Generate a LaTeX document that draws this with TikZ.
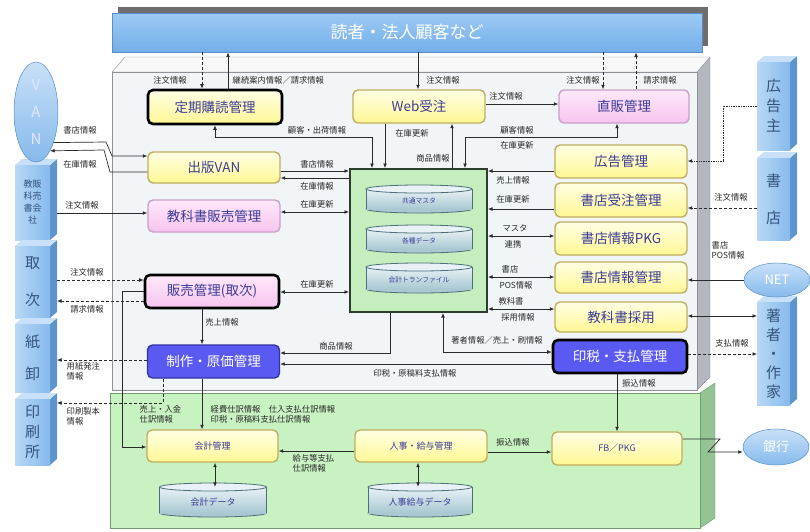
\documentclass[tikz,border=0pt]{standalone}
\usepackage{fontspec}
\setmainfont{Noto Sans CJK JP}
\usetikzlibrary{arrows.meta,shapes.geometric}
\definecolor{bannert}{HTML}{9CCAF4}
\definecolor{bannerbt}{HTML}{74AEEA}
\definecolor{bannerb}{HTML}{5A8CC8}
\definecolor{shadowc}{HTML}{6E6E6E}
\definecolor{panelc}{HTML}{F2F5F8}
\definecolor{paneltop}{HTML}{F8F8F8}
\definecolor{panelb}{HTML}{8E9298}
\definecolor{panelside}{HTML}{B4B8BE}
\definecolor{greenc}{HTML}{C9F2C2}
\definecolor{greenb}{HTML}{6E9E6E}
\definecolor{greenside}{HTML}{94C494}
\definecolor{dbc}{HTML}{C4EEBE}
\definecolor{dbb}{HTML}{2E3E2E}
\definecolor{yelt}{HTML}{FFFFE4}
\definecolor{yelb}{HTML}{FFF794}
\definecolor{yelline}{HTML}{BFAE5E}
\definecolor{pinkt}{HTML}{FFE8FB}
\definecolor{pinkb}{HTML}{F6C4EE}
\definecolor{pinkline}{HTML}{C8A0C8}
\definecolor{bluebox}{HTML}{5A5AF2}
\definecolor{blueline}{HTML}{3434A8}
\definecolor{boxtext}{HTML}{3C3C96}
\definecolor{cylt}{HTML}{E8F2F6}
\definecolor{cylb}{HTML}{A8C8D2}
\definecolor{cylline}{HTML}{4E6E7A}
\definecolor{blkfront}{HTML}{86BAEC}
\definecolor{blkleft}{HTML}{B8D8F6}
\definecolor{blktop}{HTML}{C8E0F8}
\definecolor{blkside}{HTML}{5E94CC}
\definecolor{blktext}{HTML}{34547E}
\definecolor{linec}{HTML}{2A2A2A}
\newcommand\tblock[8]{%
  \fill[blkside] (#4,#3) -- ++(7,-6) -- (#4+7,#5-6) -- (#4,#5) -- cycle;
  \fill[blktop] (#2,#3) -- ++(7,-6) -- (#4+7,#3-6) -- (#4,#3) -- cycle;
  \shade[left color=blkleft, right color=blkfront] (#2,#3) rectangle (#4,#5);
  \node[inner sep=0pt, outer sep=0pt, minimum width=#4pt-#2pt+7pt, minimum height=#5pt-#3pt, anchor=north west] (#1) at (#2,#3) {};
  \node[blktxt, font=\fontsize{#6}{#7}\selectfont] (#1-t) at ({(#2+#4)/2},{(#3+#5)/2}) {#8};
}
\newcommand\dbcyl[7]{%
  \filldraw[fill=cylb, draw=cylline, line width=0.8pt] (#2,#3+#5/2-4) ellipse [x radius=#4/2, y radius=4];
  \shade[top color=cylt, bottom color=cylb] (#2-#4/2,#3-#5/2+4) rectangle (#2+#4/2,#3+#5/2-4);
  \draw[draw=cylline, line width=0.8pt] (#2-#4/2,#3-#5/2+4) -- (#2-#4/2,#3+#5/2-4) (#2+#4/2,#3-#5/2+4) -- (#2+#4/2,#3+#5/2-4);
  \filldraw[fill=cylt, draw=cylline, line width=0.8pt] (#2,#3-#5/2+4) ellipse [x radius=#4/2, y radius=4];
  \node[inner sep=0pt, minimum width=#4pt, minimum height=#5pt-4pt, font=\fontsize{#6}{#6}\selectfont, text=boxtext] (#1) at (#2,#3+2) {#7};
}
\begin{document}
\begin{tikzpicture}[x=1pt,y=-1pt,
  box/.style={rounded corners=5pt, line width=1.4pt, minimum width=132pt, minimum height=32pt, font=\fontsize{13.5}{15}\selectfont, text=boxtext, inner sep=0pt},
  ybox/.style={box, draw=yelline, top color=yelt, bottom color=yelb},
  pbox/.style={box, draw=pinkline, top color=pinkt, bottom color=pinkb},
  bbox/.style={box, draw=blueline, fill=bluebox, text=white},
  heavy/.style={draw=black, line width=2.6pt},
  small/.style={font=\fontsize{9}{10}\selectfont},
  blktxt/.style={align=center, text=blktext, inner sep=0pt},
  lbl/.style={font=\fontsize{8.3}{9.5}\selectfont, text=black!85, inner sep=0.5pt, align=left},
  ln/.style={draw=linec, line width=0.7pt},
  arr/.style={ln, -{Latex[length=4.5pt,width=3.8pt]}},
  arrs/.style={ln, {Latex[length=4.5pt,width=3.8pt]}-{Latex[length=4.5pt,width=3.8pt]}},
  dsh/.style={densely dashed},
  ovl/.style={ellipse, inner sep=0pt, draw=bannerb, line width=0.5pt, top color=blktop, bottom color=blkfront, text=white}
]
\useasboundingbox (0,0) rectangle (810,531);
% banner
\fill[shadowc] (118,7) rectangle (708,46);
\node[draw=bannerb, line width=0.8pt, top color=bannert, bottom color=bannerbt, minimum width=590pt, minimum height=39pt, inner sep=0pt, text=white, font=\fontsize{17}{19}\selectfont] (banner) at (407,32.5) {読者・法人顧客など};
% gray panel
\filldraw[fill=panelside, draw=panelb] (697,72) -- (710,57) -- (710,377) -- (697,390) -- cycle;
\filldraw[fill=paneltop, draw=panelb] (112,72) -- (125,57) -- (710,57) -- (697,72) -- cycle;
\filldraw[fill=panelc, draw=panelb, line width=0.8pt] (112,72) rectangle (697,390);
% green panel
\filldraw[fill=greenside, draw=greenb] (700,393) -- (715,383) -- (715,518) -- (700,528) -- cycle;
\filldraw[fill=greenc, draw=greenb, line width=1pt] (110,393) rectangle (700,528);

% left column boxes
\node[ybox, heavy, minimum width=134pt, minimum height=34pt] (teiki) at (215,107) {定期購読管理};
\node[ybox, minimum height=31pt] (svan) at (214,167.5) {出版VAN};
\node[pbox] (kyo) at (214,216) {教科書販売管理};
\node[pbox, heavy, minimum width=134pt, minimum height=33pt] (hanbai) at (212,291.5) {販売管理(取次)};
\node[bbox, minimum height=33pt] (seisaku) at (213.5,361.5) {制作・原価管理};
% top boxes
\node[ybox, minimum height=33pt] (web) at (419,106.5) {Web受注};
\node[pbox, minimum width=130pt, minimum height=33pt] (chok) at (624,106.5) {直販管理};
% database
\node[draw=dbb, line width=2pt, fill=dbc, minimum width=137pt, minimum height=143pt, inner sep=0pt] (db) at (418.5,240.5) {};
\dbcyl{cyla}{419}{199}{106}{28}{6.8}{共通マスタ}
\dbcyl{cylb}{419}{239}{106}{28}{6.8}{各種データ}
\dbcyl{cylc}{419}{278}{106}{30}{6.8}{会計トランファイル}
% right column boxes
\node[ybox, minimum height=33pt] (koukoku) at (621,161.5) {広告管理};
\node[ybox, minimum height=34pt] (shoju) at (621,200) {書店受注管理};
\node[ybox, minimum height=33pt] (pkg) at (621,238.5) {書店情報PKG};
\node[ybox, minimum height=31pt] (jouhou) at (621,277.5) {書店情報管理};
\node[ybox, minimum height=30pt] (saiyou) at (621,317) {教科書採用};
\node[bbox, heavy, minimum width=134pt, minimum height=33pt] (inzei) at (620,356.5) {印税・支払管理};
% bottom boxes
\node[ybox, small, minimum width=131pt] (kaikei) at (212.5,446) {会計管理};
\node[ybox, small] (jinji) at (421,446) {人事・給与管理};
\node[ybox, small, minimum width=130pt, minimum height=33pt] (fb) at (617,448.5) {FB／PKG};
\dbcyl{kdata}{213}{500}{107}{34}{9}{会計データ}
\dbcyl{jdata}{420}{500}{104}{34}{9}{人事給与データ}

% left blocks
\tblock{kyokai}{15}{165}{50}{240}{9}{12}{教販\\科売\\書会\\社}
\tblock{tori}{15}{246}{50}{318}{15}{37}{取\\次}
\tblock{kami}{15}{324}{50}{392}{15}{32}{紙\\卸}
\tblock{insatsu}{15}{399}{50}{465}{15}{20}{印\\刷\\所}
\node[ovl, minimum width=44pt, minimum height=100pt, font=\fontsize{15}{27}\selectfont, align=center, text=white!90!blue] (van) at (36,112) {V\\A\\N};
% right blocks
\tblock{kokunushi}{757}{62}{790}{150}{15}{20}{広\\告\\主}
\tblock{shotenblk}{757}{158}{790}{240}{15}{37}{書\\店}
\tblock{chosha}{757}{302}{790}{405}{15}{19}{著\\者\\・\\作\\家}
\node[ovl, minimum width=66pt, minimum height=34pt, font=\fontsize{13}{14}\selectfont] (net) at (777,280) {NET};
\node[ovl, minimum width=66pt, minimum height=36pt, font=\fontsize{13}{14}\selectfont] (bank) at (776,447) {銀行};

% connectors: banner
\draw[arr,dsh] (202,0 |- banner.south) -- (202,0 |- teiki.north);
\draw[arr] (228,0 |- teiki.north) -- (228,0 |- banner.south);
\draw[arr] (418,0 |- banner.south) -- (418,0 |- web.north);
\draw[arr,dsh] (603,0 |- banner.south) -- (603,0 |- chok.north);
\draw[arr,dsh] (636,0 |- chok.north) -- (636,0 |- banner.south);
\draw[arr] (web.east |- 0,104) -- (chok.west |- 0,104);
% to database top
\draw[arrs] (215,0 |- teiki.south) -- (215,137) -- (372,137) -- (372,0 |- db.north);
\draw[arr] (385,0 |- web.south) -- (385,0 |- db.north);
\draw[arr] (452,0 |- db.north) -- (452,0 |- web.south);
\draw[arrs] (617,0 |- chok.south) -- (617,137) -- (465,137) -- (465,0 |- db.north);
% VAN
\draw[arr] (van.-60) -- (106,142) -- (112,156) -- (svan.west |- 0,156);
\draw[arr] (svan.west |- 0,172) -- (110,172) -- (104,150) -- (van.-70);
% left to database
\draw[arr] (svan.east |- 0,171) -- (db.west |- 0,171);
\draw[arr] (db.west |- 0,178) -- (svan.east |- 0,178);
\draw[arrs] (kyo.east |- 0,212) -- (db.west |- 0,212);
\draw[arr] (kyokai.east |- 0,213) -- (kyo.west |- 0,213);
\draw[arr,dsh] (tori.east |- 0,280) -- (hanbai.west |- 0,280);
\draw[arr,dsh] (hanbai.west |- 0,301) -- (tori.east |- 0,301);
\draw[arrs] (hanbai.east |- 0,292) -- (db.west |- 0,292);
\draw[arr] (202,0 |- hanbai.south) -- (202,0 |- seisaku.north);
\draw[arr] (390,0 |- db.south) -- (390,353) -- (seisaku.east |- 0,353);
\draw[arrs] (inzei.west |- 0,352) -- (443,352) -- (443,0 |- db.south);
\draw[arr] (inzei.west |- 0,364) -- (seisaku.east |- 0,364);
\draw[arr,dsh] (seisaku.west |- 0,360) -- (kami.east |- 0,360);
\draw[arr,dsh] (163,0 |- seisaku.south) -- (163,403) -- (insatsu.east |- 0,403);
\draw[arr] (hanbai.west |- 0,291) -- (122,291) -- (122,447) -- (kaikei.west |- 0,447);
% accounting area
\draw[arr] (202,0 |- seisaku.south) -- (202,0 |- kaikei.north);
\draw[arr] (jinji.west |- 0,451) -- (kaikei.east |- 0,451);
\draw[arrs] (215,0 |- kaikei.south) -- (215,0 |- kdata.north);
\draw[arrs] (418,0 |- jinji.south) -- (418,0 |- jdata.north);
\draw[arr] (jinji.east |- 0,452) -- (fb.west |- 0,452);
\draw[arr] (617,0 |- inzei.south) -- (617,0 |- fb.north);
\draw[arr] (fb.east |- 0,439) -- (720,439) -- (708,452) -- (bank.west |- 0,452);
% right side
\draw[arr,densely dotted] (kokunushi.west |- 0,106) -- (723,106) -- (723,161) -- (koukoku.east |- 0,161);
\draw[arr,dsh] (shotenblk.west |- 0,208) -- (shoju.east |- 0,208);
\draw[arr] (koukoku.west |- 0,171) -- (db.east |- 0,171);
\draw[arr] (shoju.west |- 0,209) -- (db.east |- 0,209);
\draw[arrs] (pkg.west |- 0,236) -- (db.east |- 0,236);
\draw[arrs] (jouhou.west |- 0,277) -- (db.east |- 0,277);
\draw[arrs] (saiyou.west |- 0,309) -- (db.east |- 0,309);
\draw[arr] (net.west) -- (jouhou.east |- net.west);
\draw[arrs] (saiyou.east |- 0,316) -- (chosha.west |- 0,316);
\draw[arr,dsh] (inzei.east |- 0,354) -- (chosha.west |- 0,354);

% labels
\node[lbl] (l1) at (170,80) {注文情報};
\node[lbl, anchor=west] (l2) at (232,80) {継続案内情報／請求情報};
\node[lbl] (l3) at (443,80) {注文情報};
\node[lbl] (l4) at (583,80) {注文情報};
\node[lbl] (l5) at (660,80) {請求情報};
\node[lbl] (l6) at (506,96) {注文情報};
\node[lbl] (l7) at (317,130) {顧客・出荷情報};
\node[lbl] (l8) at (412,133) {在庫更新};
\node[lbl] (l9) at (433,158) {商品情報};
\node[lbl] (l10) at (517,130) {顧客情報};
\node[lbl] (l11) at (517,145) {在庫更新};
\node[lbl] (l12) at (80,130) {書店情報};
\node[lbl] (l13) at (80,164) {在庫情報};
\node[lbl] (l14) at (317,164) {書店情報};
\node[lbl] (l15) at (317,186) {在庫情報};
\node[lbl] (l16) at (317,204) {在庫更新};
\node[lbl] (l17) at (82,205) {注文情報};
\node[lbl] (l18) at (87,272) {注文情報};
\node[lbl] (l19) at (87,309) {請求情報};
\node[lbl] (l20) at (317,284) {在庫更新};
\node[lbl] (l21) at (222,322) {売上情報};
\node[lbl] (l22) at (336,346) {商品情報};
\node[lbl] (l23) at (497,340) {著者情報／売上・刷情報};
\node[lbl] (l24) at (415,373) {印税・原稿料支払情報};
\node[lbl, anchor=north west] (l25) at (66,362) {用紙発注\\情報};
\node[lbl, anchor=north west] (l26) at (66,407) {印刷製本\\情報};
\node[lbl, anchor=north west] (l27) at (139,405) {売上・入金\\仕訳情報};
\node[lbl, anchor=north west] (l28) at (210,405) {経費仕訳情報　仕入支払仕訳情報\\印税・原稿料支払仕訳情報};
\node[lbl, anchor=north west] (l29) at (292,454) {給与等支払\\仕訳情報};
\node[lbl] (l30) at (513,442) {振込情報};
\node[lbl] (l31) at (639,383) {振込情報};
\node[lbl] (l32) at (513,180) {売上情報};
\node[lbl] (l33) at (513,199) {在庫更新};
\node[lbl] (l34) at (515,228) {マスタ};
\node[lbl] (l35) at (513,244) {連携};
\node[lbl] (l36) at (510,269) {書店};
\node[lbl] (l37) at (516,285) {POS情報};
\node[lbl] (l38) at (511,301) {教科書};
\node[lbl] (l39) at (518,317) {採用情報};
\node[lbl, anchor=north west] (l40) at (711,241) {書店\\POS情報};
\node[lbl] (l41) at (731,197) {注文情報};
\node[lbl] (l42) at (732,343) {支払情報};
\end{tikzpicture}
\end{document}
